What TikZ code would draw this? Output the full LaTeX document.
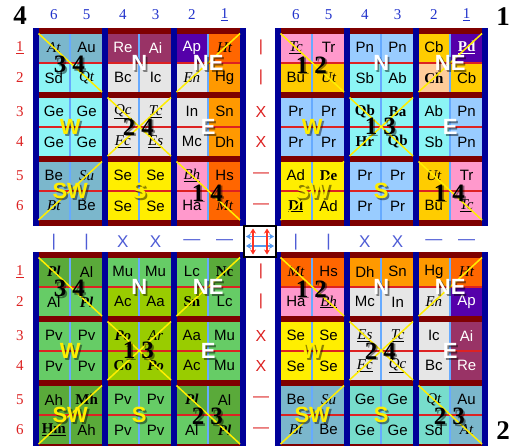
\documentclass[tikz,border=0pt]{standalone}
\usepackage{fontspec}
\setmainfont{Liberation Serif}
\setsansfont{Liberation Sans}
\usetikzlibrary{arrows.meta, calc}

\definecolor{navybar}{HTML}{000099}
\definecolor{maroonbar}{HTML}{7F0000}
\definecolor{divline}{HTML}{66AAFF}
\definecolor{midline}{HTML}{DD2222}
\definecolor{steelc}{HTML}{7BB7CC}
\definecolor{cyanc}{HTML}{8CF5F5}
\definecolor{grayc}{HTML}{E6E6E6}
\definecolor{maroonc}{HTML}{993366}
\definecolor{purplec}{HTML}{5500AA}
\definecolor{flamec}{HTML}{FF6600}
\definecolor{orangec}{HTML}{FF9900}
\definecolor{yellowc}{HTML}{FFEE00}
\definecolor{pinkc}{HTML}{FF99CC}
\definecolor{skyc}{HTML}{99CCFF}
\definecolor{goldc}{HTML}{FFCC00}
\definecolor{peachc}{HTML}{FFCC99}
\definecolor{turqc}{HTML}{77DDCC}
\definecolor{greenc}{HTML}{66CC66}
\definecolor{forestc}{HTML}{5AAA3A}
\definecolor{limec}{HTML}{99CC00}
\definecolor{rowred}{HTML}{DD2222}
\definecolor{colblue}{HTML}{2233CC}
\definecolor{arrred}{HTML}{FF3322}
\definecolor{arrblue}{HTML}{5599EE}

\newcommand\celli[1]{{\rmfamily\itshape #1}}
\newcommand\cellu[1]{{\rmfamily\itshape\underline{#1}}}
\newcommand\cellb[1]{{\rmfamily\bfseries #1}}
\newcommand\cellbi[1]{{\rmfamily\bfseries\itshape #1}}
\newcommand\cellbu[1]{{\rmfamily\bfseries\underline{#1}}}

% style, name, position, text
\newcommand\shadetag[4]{%
  \node[#1, text=black, opacity=.45, xshift=1.8pt, yshift=-1.8pt] at #3 {#4};
  \node[#1] (#2) at #3 {#4};}

% x, y, rows, three pair labels, name prefix
\newcommand\drawquad[7]{%
  \fill[maroonbar] (#1,#2) rectangle ++(212.5,197.5);
  \foreach \b in {0,1,2,3}
    \fill[navybar] ({#1+\b*69},#2) rectangle ++(5.5,197.5);
  \foreach \bx in {0,1,2}
    \foreach \by in {0,1,2}
      \fill[divline] ({#1+5.5+\bx*69},{#2+5.5+\by*64}) rectangle ++(63.5,58.5);
  \foreach \cells [count=\r from 0] in {#3}
    \foreach \s/\t [count=\j from 0] in \cells
      \node[cell,\s] (#7c\r\j) at ({#1+20.875+int(\j/2)*69+mod(\j,2)*32.75},{#2+19.625+int(\r/2)*64+mod(\r,2)*30.25}) {\t};
  \foreach \bx in {0,1,2}
    \foreach \by in {0,1,2}
      \fill[midline] ({#1+5.5+\bx*69},{#2+33.75+\by*64}) rectangle ++(63.5,2);
  \draw[diag] ({#1+5.5},{#2+5.5}) -- ++(63.5,58.5);
  \draw[diag] ({#1+143.5},{#2+64}) -- ++(63.5,-58.5);
  \draw[diag] ({#1+74.5},{#2+69.5}) -- ++(63.5,58.5);
  \draw[diag] ({#1+74.5},{#2+128}) -- ++(63.5,-58.5);
  \draw[diag] ({#1+5.5},{#2+192}) -- ++(63.5,-58.5);
  \draw[diag] ({#1+143.5},{#2+133.5}) -- ++(63.5,58.5);
  \shadetag{wtag}{#7N}{({#1+106.25},{#2+34.75})}{N}
  \shadetag{wtag}{#7NE}{({#1+175.25},{#2+34.75})}{NE}
  \shadetag{ytag}{#7W}{({#1+37.25},{#2+98.75})}{W}
  \shadetag{wtag}{#7E}{({#1+175.25},{#2+98.75})}{E}
  \shadetag{ytag}{#7SW}{({#1+37.25},{#2+162.75})}{SW}
  \shadetag{ytag}{#7S}{({#1+106.25},{#2+162.75})}{S}
  \shadetag{pair}{#7p1}{({#1+36.25},{#2+36.75})}{#4}
  \shadetag{pair}{#7p2}{({#1+105.25},{#2+98.75})}{#5}
  \shadetag{pair}{#7p3}{({#1+174.25},{#2+164.75})}{#6}
}

\begin{document}
\begin{tikzpicture}[x=1pt, y=-1pt,
    cell/.style={minimum width=30.75pt, minimum height=28.25pt, inner sep=0pt,
      font=\sffamily\fontsize{15}{17}\selectfont},
    cSt/.style={fill=steelc}, cCy/.style={fill=cyanc}, cGr/.style={fill=grayc},
    cMa/.style={fill=maroonc, text=white}, cPu/.style={fill=purplec, text=white},
    cOr/.style={fill=flamec}, cOg/.style={fill=orangec}, cYe/.style={fill=yellowc},
    cPk/.style={fill=pinkc}, cLb/.style={fill=skyc}, cGo/.style={fill=goldc},
    cPe/.style={fill=peachc}, cTq/.style={fill=turqc}, cLg/.style={fill=greenc},
    cDg/.style={fill=forestc}, cYg/.style={fill=limec},
    diag/.style={draw=yellowc, line width=1.5pt},
    tag/.style={inner sep=0pt, font=\sffamily\bfseries\fontsize{22}{22}\selectfont},
    wtag/.style={tag, text=white}, ytag/.style={tag, text=yellowc},
    pair/.style={inner sep=0pt, font=\rmfamily\bfseries\fontsize{25}{25}\selectfont},
    corner/.style={inner sep=0pt, font=\rmfamily\bfseries\fontsize{27}{27}\selectfont},
    colnum/.style={text=colblue, font=\rmfamily\fontsize{15}{15}\selectfont},
    rownum/.style={text=rowred, font=\rmfamily\fontsize{15}{15}\selectfont},
    redsym/.style={text=rowred, font=\sffamily\fontsize{16}{16}\selectfont},
    bluesym/.style={text=colblue!80!white, font=\sffamily\fontsize{17}{17}\selectfont},
    hubbox/.style={draw=black, fill=white, line width=1.6pt, minimum width=32pt, minimum height=31pt, inner sep=0pt},
    redarr/.style={draw=arrred, line width=1.4pt, {Stealth[length=5pt,width=6pt]}-{Stealth[length=5pt,width=6pt]}},
    bluearr/.style={draw=arrblue, line width=1.4pt, {Stealth[length=5pt,width=6pt]}-{Stealth[length=5pt,width=6pt]}}]
  \clip (0,0) rectangle (511,445);
  \fill[white] (0,0) rectangle (511,445);

  \drawquad{33}{28}{
    {cSt/\celli{At}, cSt/Au, cMa/Re, cMa/Ai, cPu/Ap, cOr/\celli{Ht}},
    {cCy/Sd, cCy/\celli{Qt}, cGr/Bc, cGr/Ic, cGr/\celli{En}, cOg/Hg},
    {cCy/Ge, cCy/Ge, cGr/\cellu{Qc}, cGr/\cellu{Tc}, cGr/In, cOg/Sn},
    {cCy/Ge, cCy/Ge, cGr/\cellu{Fc}, cGr/\cellu{Es}, cGr/Mc, cOg/Dh},
    {cSt/Be, cSt/\celli{Su}, cYe/Se, cYe/Se, cPk/\cellu{Bh}, cOr/Hs},
    {cSt/\celli{Bt}, cSt/Be, cYe/Se, cYe/Se, cPk/Ha, cOr/\celli{Mt}}}{3\hspace{6pt}4}{2\hspace{6pt}4}{1\hspace{6pt}4}{tl}

  \drawquad{275}{28}{
    {cPk/\cellu{Tc}, cPk/Tr, cLb/Pn, cLb/Pn, cGo/Cb, cPu/\cellbu{Pd}},
    {cGo/Bu, cGo/\celli{Ut}, cCy/Sb, cCy/Ab, cPe/\cellb{Ch}, cGo/Cb},
    {cLb/Pr, cLb/Pr, cCy/\cellb{Qb}, cCy/\cellb{Ba}, cCy/Ab, cLb/Pn},
    {cLb/Pr, cLb/Pr, cCy/\cellb{Hr}, cCy/\cellb{Qb}, cCy/Sb, cLb/Pn},
    {cYe/Ad, cYe/\cellb{De}, cLb/Pr, cLb/Pr, cGo/\celli{Ut}, cPk/Tr},
    {cYe/\cellbu{Dl}, cYe/Ad, cLb/Pr, cLb/Pr, cGo/Bu, cPk/\cellu{Tc}}}{1\hspace{6pt}2}{1\hspace{6pt}3}{1\hspace{6pt}4}{tr}

  \drawquad{33}{252}{
    {cDg/\cellbi{Pl}, cDg/Al, cLg/Mu, cLg/Mu, cLg/Lc, cDg/\cellb{Nc}},
    {cLg/Al, cLg/\cellbi{Pl}, cYg/Ac, cYg/Aa, cYg/\cellb{Sn}, cLg/Lc},
    {cLg/Pv, cLg/Pv, cYg/\cellbi{Po}, cYg/\celli{Ar}, cYg/Aa, cLg/Mu},
    {cLg/Pv, cLg/Pv, cYg/\cellb{Co}, cYg/\cellbi{Po}, cYg/Ac, cLg/Mu},
    {cDg/Ah, cDg/\cellb{Mh}, cLg/Pv, cLg/Pv, cDg/\cellbi{Pl}, cDg/Al},
    {cDg/\cellbu{Hm}, cDg/Ah, cLg/Pv, cLg/Pv, cLg/Al, cDg/\cellbi{Pl}}}{3\hspace{6pt}4}{1\hspace{6pt}3}{2\hspace{6pt}3}{bl}

  \drawquad{275}{252}{
    {cOr/\celli{Mt}, cOr/Hs, cOg/Dh, cOg/Sn, cOg/Hg, cOr/\celli{Ht}},
    {cPk/Ha, cPk/\cellu{Bh}, cGr/Mc, cGr/In, cGr/\celli{En}, cPu/Ap},
    {cYe/Se, cYe/Se, cGr/\cellu{Es}, cGr/\cellu{Tc}, cGr/Ic, cMa/Ai},
    {cYe/Se, cYe/Se, cGr/\cellu{Fc}, cGr/\cellu{Qc}, cGr/Bc, cMa/Re},
    {cSt/Be, cSt/\celli{Su}, cTq/Ge, cTq/Ge, cTq/\celli{Qt}, cSt/Au},
    {cSt/\celli{Bt}, cSt/Be, cTq/Ge, cTq/Ge, cTq/Sd, cSt/\celli{At}}}{1\hspace{6pt}2}{2\hspace{6pt}4}{2\hspace{6pt}3}{br}

  \foreach \qx/\q in {33/a, 275/b} {
    \foreach \t [count=\j from 0] in {6,5,4,3,2,\underline{1}}
      \node[colnum] (col\q\j) at ({\qx+20.875+int(\j/2)*69+mod(\j,2)*32.75},15) {\t};
    \foreach \t [count=\j from 0] in {|,|,X,X,—,—}
      \node[bluesym] (mid\q\j) at ({\qx+20.875+int(\j/2)*69+mod(\j,2)*32.75},242) {\t};
  }
  \foreach \qy/\q in {28/a, 252/b} {
    \foreach \t [count=\r from 0] in {\underline{1},2,3,4,5,6}
      \node[rownum] (row\q\r) at (20,{\qy+19.625+int(\r/2)*64+mod(\r,2)*30.25}) {\t};
    \foreach \t [count=\r from 0] in {|,|,X,X,—,—}
      \node[redsym] (sym\q\r) at (261,{\qy+19.625+int(\r/2)*64+mod(\r,2)*30.25}) {\t};
  }

  \node[corner] (four) at (20,16) {4};
  \node[corner] (one) at (503,17) {1};
  \node[corner] (two) at (503,431) {2};

  \node[hubbox] (hub) at (260,241.5) {};
  \draw[bluearr] ($(hub)+(-14,-5)$) -- ($(hub)+(14,-5)$);
  \draw[bluearr] ($(hub)+(-14,4.5)$) -- ($(hub)+(14,4.5)$);
  \draw[redarr] ($(hub)+(-7,-13)$) -- ($(hub)+(-7,13)$);
  \draw[redarr] ($(hub)+(7,-13)$) -- ($(hub)+(7,13)$);
\end{tikzpicture}
\end{document}
